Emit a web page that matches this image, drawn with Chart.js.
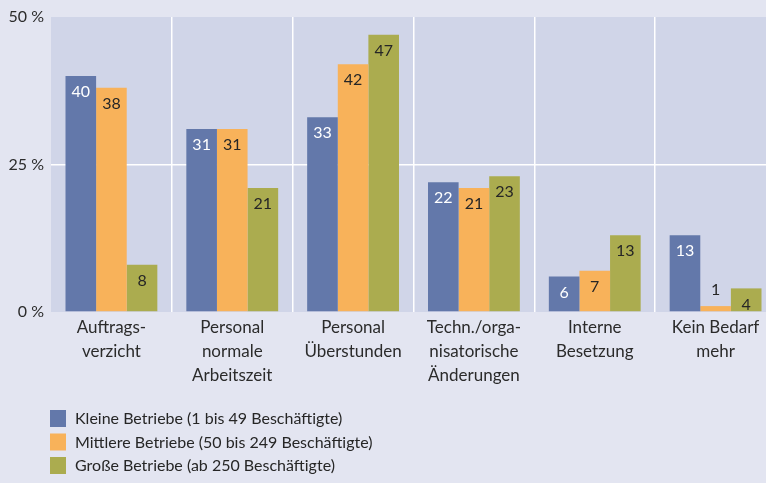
<!DOCTYPE html>
<html>
<head>
<meta charset="utf-8">
<script src="https://cdn.jsdelivr.net/npm/chart.js@4.4.1/dist/chart.umd.min.js"></script>
<style>
    body{
        margin:0;
        background:#e3e5f1;
    }
    .wrap{
        width:766px;
        height:483px;
        overflow:hidden;
    }
</style>
</head>
<body>
<div class="wrap">
    <canvas id="myChart" width="800" height="483"></canvas>
</div>
<script>
const categories = [
    ['Auftrags-', 'verzicht'],
    ['Personal', 'normale', 'Arbeitszeit'],
    ['Personal', 'Überstunden'],
    ['Techn./orga-', 'nisatorische', 'Änderungen'],
    ['Interne', 'Besetzung'],
    ['Kein Bedarf', 'mehr']
];
const seriesNames = [
    'Kleine Betriebe (1 bis 49 Beschäftigte)',
    'Mittlere Betriebe (50 bis 249 Beschäftigte)',
    'Große Betriebe (ab 250 Beschäftigte)'
];
const kleine = [40, 31, 33, 22, 6, 13];
const mittlere = [38, 31, 42, 21, 7, 1];
const grosse = [8, 21, 47, 23, 13, 4];
const yTicks = [0, 25, 50];

const colors = ['#6378aa', '#f8b25a', '#abac4f'];
const labelColors = ['#ffffff', '#262626', '#262626'];
const font = 'Lato';

// plot background behind the bars
const plotBg = {
    id: 'plotBg',
    beforeDraw(chart){
        const a = chart.chartArea;
        const c = chart.ctx;
        c.save();
        c.fillStyle = '#d0d5e8';
        c.fillRect(a.left, a.top, a.right - a.left, a.bottom - a.top);
        c.restore();
    }
};

// numbers inside the bars (above when the bar is too short)
const barValues = {
    id: 'barValues',
    afterDatasetsDraw(chart){
        const c = chart.ctx;
        c.save();
        c.font = '16px ' + font;
        c.textAlign = 'center';
        c.textBaseline = 'middle';
        chart.data.datasets.forEach(function(ds, i){
            chart.getDatasetMeta(i).data.forEach(function(bar, j){
                const h = bar.base - bar.y;
                if(h > 12){
                    c.fillStyle = labelColors[i];
                    c.fillText(ds.data[j], bar.x, bar.y + 16);
                }
                else{
                    c.fillStyle = '#262626';
                    c.fillText(ds.data[j], bar.x, bar.y - 16);
                }
            });
        });
        c.restore();
    }
};

// legend stacked at the bottom left
const sideLegend = {
    id: 'sideLegend',
    afterDraw(chart){
        const c = chart.ctx;
        c.save();
        c.font = '16px ' + font;
        c.textBaseline = 'middle';
        chart.data.datasets.forEach(function(ds, i){
            const y = 419 + i * 23.5;
            c.fillStyle = ds.backgroundColor;
            c.fillRect(50, y - 9, 16, 17);
            c.fillStyle = '#262626';
            c.fillText(ds.label, 75, y);
        });
        c.restore();
    }
};

let ctx = document.getElementById('myChart').getContext('2d');
let myChart = new Chart(ctx, {
    type: 'bar',
    data: {
        labels: categories,
        datasets: [
            { label: seriesNames[0], data: kleine, backgroundColor: colors[0] },
            { label: seriesNames[1], data: mittlere, backgroundColor: colors[1] },
            { label: seriesNames[2], data: grosse, backgroundColor: colors[2] }
        ]
    },
    options: {
        responsive: false,
        animation: false,
        categoryPercentage: 0.76,
        barPercentage: 1,
        layout: {
            padding: { top: 17, left: 0, right: 24, bottom: 96 }
        },
        plugins: {
            legend: { display: false },
            tooltip: { enabled: false }
        },
        scales: {
            x: {
                grid: {
                    offset: true,
                    drawTicks: false,
                    lineWidth: 1.5,
                    color: function(context){
                        return context.index === 0 ? 'rgba(0,0,0,0)' : '#ffffff';
                    }
                },
                border: { display: false },
                ticks: {
                    color: '#2b2b2b',
                    padding: 4,
                    font: { family: font, size: 17, lineHeight: 1.41 }
                },
                afterFit: function(scale){
                    scale.height = 75;
                }
            },
            y: {
                min: 0,
                max: 50,
                afterBuildTicks: function(scale){
                    scale.ticks = yTicks.map(function(v){ return { value: v }; });
                },
                grid: {
                    drawTicks: false,
                    lineWidth: 1.5,
                    color: function(context){
                        return context.tick && context.tick.value === 25 ? '#ffffff' : 'rgba(0,0,0,0)';
                    }
                },
                border: { display: false },
                ticks: {
                    color: '#2b2b2b',
                    padding: 7,
                    font: { family: font, size: 16 },
                    callback: function(value){
                        return value + ' %';
                    }
                },
                afterFit: function(scale){
                    scale.width = 51;
                }
            }
        }
    },
    plugins: [plotBg, barValues, sideLegend]
});
</script>
</body>
</html>
